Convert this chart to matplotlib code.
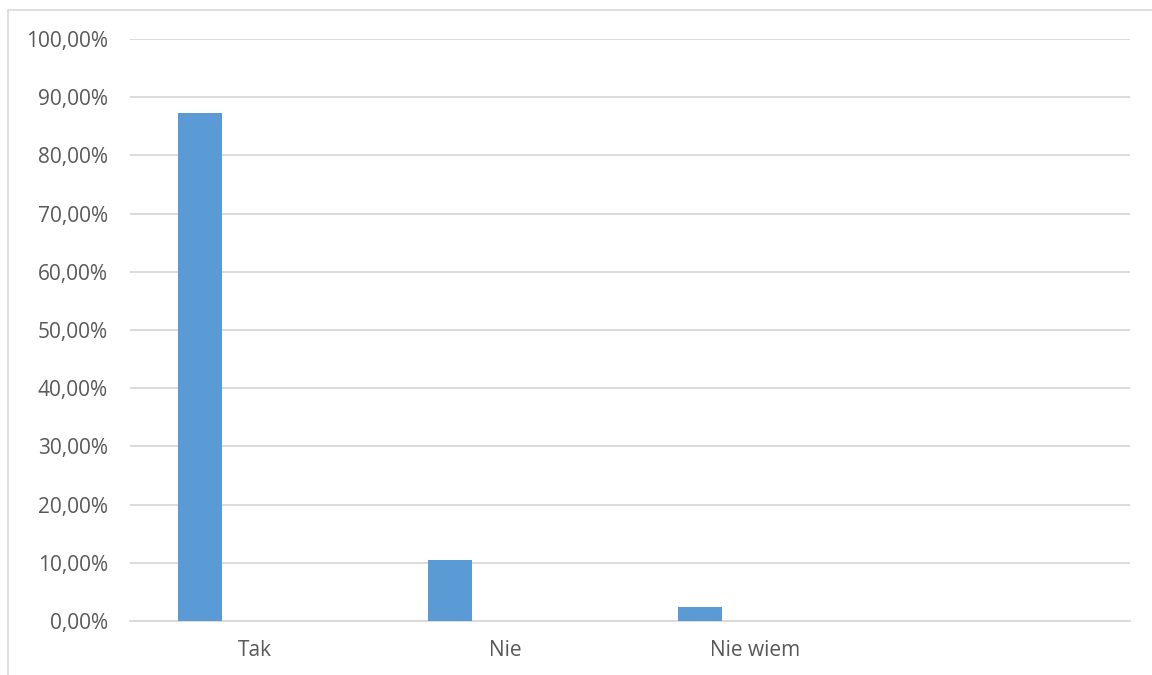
import matplotlib.pyplot as plt
from matplotlib.ticker import FuncFormatter, MultipleLocator
from matplotlib.patches import Rectangle
import numpy as np

categories = ['Tak', 'Nie', 'Nie wiem', '']
values = [87.2, 10.4, 2.4, 0.0]

plt.rcParams['font.family'] = ['Open Sans', 'DejaVu Sans']

fig = plt.figure(figsize=(11.52, 6.75), dpi=100)
ax = fig.add_axes([130 / 1152, 1 - 621 / 675, 1000 / 1152, 582 / 675])

# outer chart border (light grey)
fig.patches.append(Rectangle((8 / 1152, -0.01), 1.1, 1 - 10 / 675 + 0.01,
                             transform=fig.transFigure, fill=False,
                             edgecolor='#d9d9d9', linewidth=1.2))

x = np.arange(len(categories))
ax.bar(x - 0.22, values, width=0.176, color='#5b9bd5', zorder=3)

ax.set_xlim(-0.5, len(categories) - 0.5)
ax.set_ylim(0, 100)
ax.yaxis.set_major_locator(MultipleLocator(10))
ax.yaxis.set_major_formatter(FuncFormatter(lambda v, p: f'{v:.2f}%'.replace('.', ',')))
ax.set_xticks(x)
ax.set_xticklabels(categories)

ax.grid(axis='y', color='#d9d9d9', linewidth=1.3, zorder=0)
for s in ['top', 'right', 'left']:
    ax.spines[s].set_visible(False)
ax.spines['bottom'].set_color('#d9d9d9')
ax.spines['bottom'].set_linewidth(1.3)
ax.tick_params(axis='both', length=0, labelsize=15, colors='#595959')
ax.tick_params(axis='y', pad=16)
ax.tick_params(axis='x', pad=14)

fig.savefig('out.png', dpi=100)
